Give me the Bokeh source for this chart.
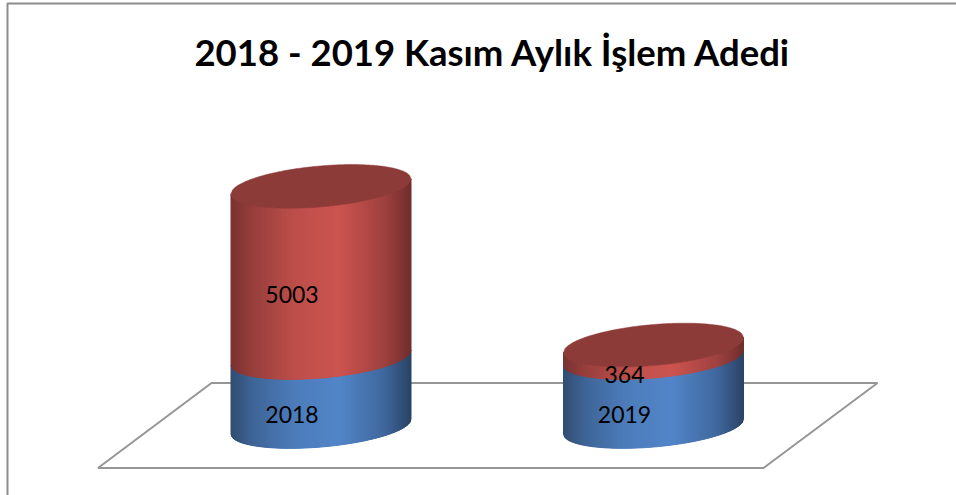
from bokeh.plotting import figure
from bokeh.models import Range1d, Label
from bokeh.embed import file_html
from bokeh.resources import INLINE
from bokeh.core.properties import value
import math

title_text = "2018 - 2019 Kasım Aylık İşlem Adedi"
categories = ["2018", "2019"]
blue_values = [2018, 2019]
red_values = [5003, 364]
blue_labels = ["2018", "2019"]
red_labels = ["5003", "364"]

W, H = 956, 495
PX_PER_UNIT = 0.0342
BASE_PX = 426
CAT_PX0, CAT_STEP = 320.5, 332.5
A_PX, B_PX, SHEAR_PX = 90.0, 20.5, 7.5

def lerp(c1, c2, t):
    return tuple(int(round(a + (b - a) * t)) for a, b in zip(c1, c2))

def shade(stops, t):
    for (t0, c0), (t1, c1) in zip(stops, stops[1:]):
        if t <= t1:
            return "#%02x%02x%02x" % lerp(c0, c1, (t - t0) / (t1 - t0))
    return "#%02x%02x%02x" % stops[-1][1]

BLUE = [(0, (48, 76, 112)), (0.12, (62, 100, 150)), (0.35, (76, 124, 186)), (0.6, (82, 133, 200)),
        (0.85, (64, 104, 158)), (1, (42, 68, 102))]
RED = [(0, (122, 50, 48)), (0.12, (150, 62, 60)), (0.35, (188, 78, 74)), (0.6, (204, 84, 80)),
       (0.85, (160, 66, 64)), (1, (112, 46, 45))]
TOP = "#8c3b39"

p = figure(width=W, height=H, output_backend="svg", toolbar_location=None,
           x_range=Range1d(-CAT_PX0 / CAT_STEP, (W - CAT_PX0) / CAT_STEP),
           y_range=Range1d((BASE_PX - H) / PX_PER_UNIT, BASE_PX / PX_PER_UNIT),
           min_border=0, min_border_left=0, min_border_right=0, min_border_top=0, min_border_bottom=0,
           x_axis_type=None, y_axis_type=None, outline_line_color=None)
p.grid.visible = False
p.extra_x_ranges["px"] = Range1d(0, W)
p.extra_y_ranges["px"] = Range1d(H, 0)

# chart frame and floor (decoration, in pixel space)
p.line([7, 7, 956], [498, 3, 3], x_range_name="px", y_range_name="px",
       line_color="#8c8c8c", line_width=2)
p.patch([97.5, 763, 877, 211], [467.5, 467.5, 382.5, 382.5], x_range_name="px", y_range_name="px",
        fill_color="white", line_color="#969696", line_width=2)

a = A_PX / CAT_STEP
b = B_PX / PX_PER_UNIT
s = SHEAR_PX / PX_PER_UNIT
N = 180

def upper_edge(u):
    return b * math.sqrt(max(0.0, 1 - u * u)) + s * u

def lower_edge(u):
    return -b * math.sqrt(max(0.0, 1 - u * u)) + s * u

def draw_wall(i, y0, y1, stops):
    xs, ys, cols = [], [], []
    for k in range(N):
        u0 = -1 + 2 * k / N
        u1 = -1 + 2 * (k + 1) / N
        xs.append([i + a * u0, i + a * u1, i + a * u1, i + a * u0])
        ys.append([y0 + lower_edge(u0), y0 + lower_edge(u1), y1 + lower_edge(u1), y1 + lower_edge(u0)])
        cols.append(shade(stops, (k + 0.5) / N))
    p.patches(xs, ys, fill_color=cols, line_color=cols, line_width=1)

def draw_top(i, y):
    us = [-1 + 2 * k / 120 for k in range(121)]
    xs = [i + a * u for u in us] + [i + a * u for u in reversed(us)]
    ys = [y + upper_edge(u) for u in us] + [y + lower_edge(u) for u in reversed(us)]
    p.patch(xs, ys, fill_color=TOP, line_color=TOP, line_width=0.5)

for i, (bv, rv) in enumerate(zip(blue_values, red_values)):
    draw_wall(i, 0, bv, BLUE)
    draw_wall(i, bv, bv + rv, RED)
    draw_top(i, bv + rv)

lx, ly, lt = [], [], []
for i, (bv, rv) in enumerate(zip(blue_values, red_values)):
    lx += [i, i]
    ly += [bv / 2, bv + rv / 2]
    lt += [blue_labels[i], red_labels[i]]
p.text(lx, ly, text=lt, text_font=value("Lato"), text_font_size="23px", text_color="black",
       text_align="center", text_baseline="middle", x_offset=-29, y_offset=23)

p.add_layout(Label(x=492.5, y=51, x_range_name="px", y_range_name="px",
                   text=title_text, text_font="Lato", text_font_style="bold", text_font_size="36.5px",
                   text_color="black", text_align="center", text_baseline="middle"))

open("out.html", "w").write(file_html(p, INLINE))
